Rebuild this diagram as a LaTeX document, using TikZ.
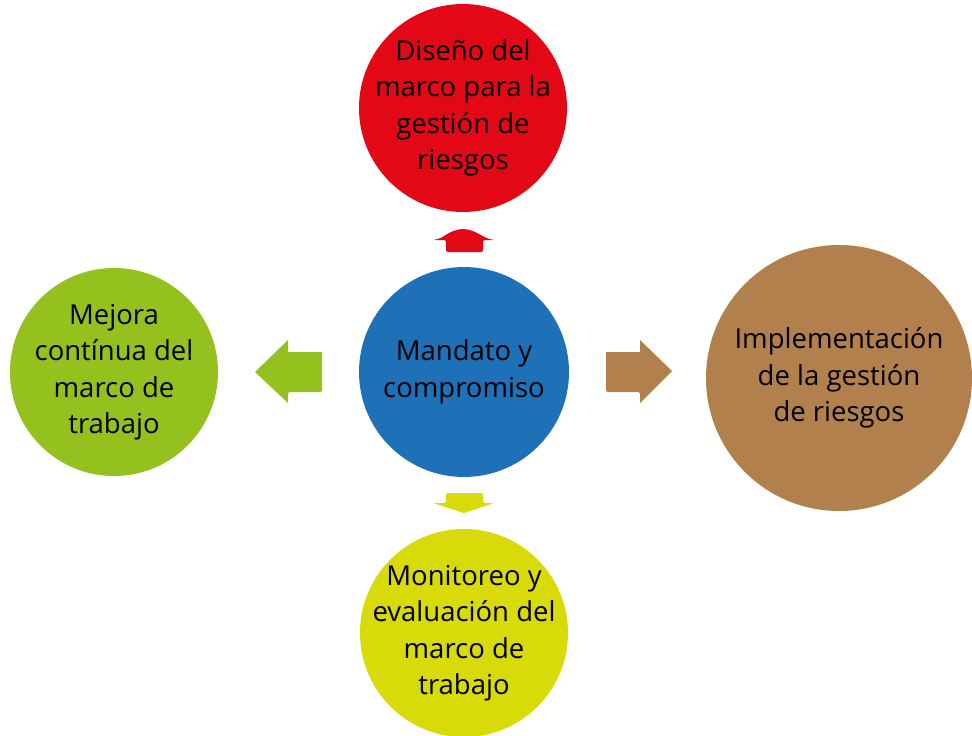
\documentclass[tikz,border=0pt]{standalone}
\usepackage{fontspec}
\setmainfont{Open Sans}
\definecolor{cred}{RGB}{226,8,22}
\definecolor{cblue}{RGB}{30,112,183}
\definecolor{cgreen}{RGB}{149,193,31}
\definecolor{cbrown}{RGB}{177,128,76}
\definecolor{cyellow}{RGB}{216,218,10}
\begin{document}
\begin{tikzpicture}[x=1pt,y=-1pt,
  bubble/.style={circle,inner sep=0pt},
  label text/.style={inner sep=0pt,align=center,text=black,
    font=\fontsize{27.5}{36.5}\selectfont},
  blk/.style={rounded corners=2pt}]
\useasboundingbox (0,0) rectangle (972,736);
\begin{scope}
\clip (0,0) rectangle (972,736);
\node[bubble,fill=cblue,minimum size=210pt] (mand) at (464,372) {};
\node[bubble,fill=cred,minimum size=208pt] (dis) at (463,108) {};
\node[bubble,fill=cgreen,minimum size=208pt] (mej) at (114,372) {};
\node[bubble,fill=cbrown,minimum size=266pt] (imp) at (839,378) {};
\node[bubble,fill=cyellow,minimum size=208pt] (mon) at (464,633) {};
\end{scope}
\node[label text] (tmand) at (mand.center) {Mandato y\\compromiso};
\node[label text] (tdis) at (dis.center) {Diseño del\\marco para la\\gestión de\\riesgos};
\node[label text] (tmej) at (mej.center) {Mejora\\contínua del\\marco de\\trabajo};
\node[label text] (timp) at (imp.center) {Implementación\\de la gestión\\de riesgos};
\node[label text] (tmon) at (mon.center) {Monitoreo y\\evaluación del\\marco de\\trabajo};
% arrows
\fill[cred,blk] (446,252) -- (446,240) -- (433,240) [sharp corners]
  .. controls (445,238) and (448,230) .. (463,229)
  .. controls (478,230) and (481,238) .. (494,240) [rounded corners=2pt] -- (483,240) -- (483,252) -- cycle;
\fill[cyellow,blk] (446,493) -- (483,493) -- (483,503) -- (494,503) [sharp corners]
  -- (464,513) -- (433,503) [rounded corners=2pt] -- (446,503) -- cycle;
\fill[cgreen,blk] (322,352) -- (322,392) -- (288,392) [sharp corners] -- (288,403) -- (255,372) -- (288,340) -- (288,352) -- cycle;
\fill[cbrown,blk] (606,352) -- (606,392) -- (640,392) [sharp corners] -- (640,403) -- (672,371) -- (640,340) -- (640,352) -- cycle;
\end{tikzpicture}
\end{document}
